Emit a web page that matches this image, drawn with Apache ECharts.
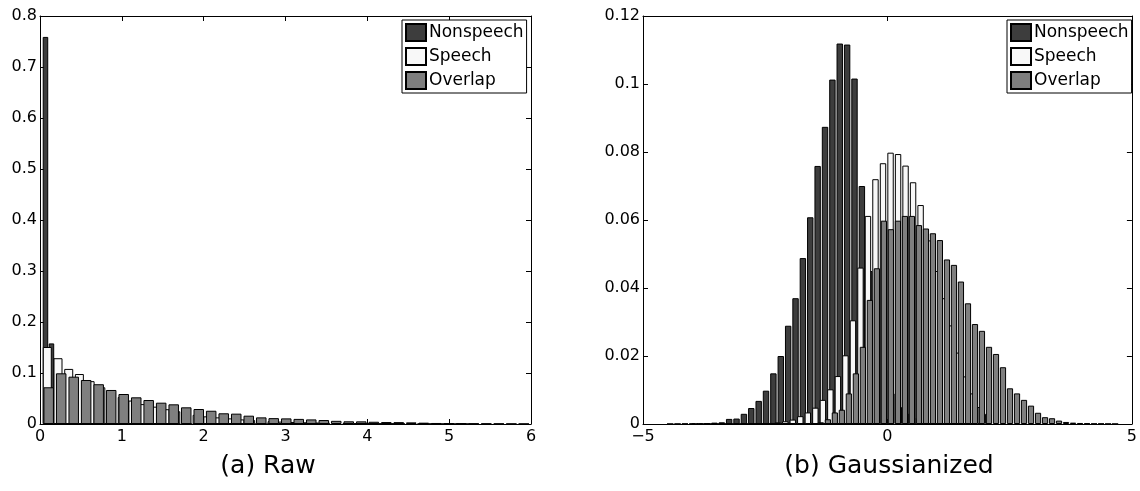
<!DOCTYPE html>
<html>
<head>
<meta charset="utf-8">
<script src="https://cdn.jsdelivr.net/npm/echarts@6/dist/echarts.min.js"></script>
<style>
html,body{margin:0;padding:0;background:#fff;}
#chart{width:1140px;height:491px;}
</style>
</head>
<body>
<div id="chart"></div>
<script>
// ---------- (a) Raw ----------
const rawNonspeechBins = [0.067,0.140,0.214,0.287,0.360,0.434,0.507,0.580,0.653,0.727,0.800,0.873,0.947,1.020,1.093,1.167,1.240,1.313,1.386,1.460,1.533,1.606,1.680,1.753,1.826,1.900,1.973,2.046,2.119,2.193,2.266,2.339,2.413,2.486,2.559,2.633,2.706,2.779,2.852,2.926];
const rawNonspeech = [0.759,0.158,0.032,0.014,0.008,0.0055,0.004,0.003,0.0025,0.002,0.0017,0.0015,0.0013,0.0011,0.001,0.0009,0.0008,0.0007,0.0006,0.0005,0.0005,0.0004,0.0004,0.0003,0.0003,0.0003,0.0002,0.0002,0.0002,0.0002,0.0001,0.0001,0.0001,0.0001,0.0001,0.0001,0.00005,0.00005,0.00005,0.00005];

const rawSpeechBins = [0.089,0.220,0.351,0.481,0.612,0.743,0.874,1.005,1.135,1.266,1.397,1.528,1.659,1.789,1.920,2.051,2.182,2.313,2.443,2.574,2.705,2.836,2.967,3.097,3.228,3.359,3.490,3.621,3.751,3.882,4.013,4.144,4.275,4.405,4.536,4.667,4.798,4.929,5.059,5.190];
const rawSpeech = [0.151,0.129,0.108,0.098,0.084,0.072,0.062,0.053,0.046,0.039,0.034,0.029,0.025,0.021,0.018,0.015,0.013,0.011,0.009,0.0078,0.0066,0.0056,0.0047,0.004,0.0034,0.0029,0.0024,0.002,0.0017,0.0014,0.0012,0.001,0.0008,0.0007,0.0006,0.0005,0.0004,0.0003,0.0002,0.0002];

const rawOverlapBins = [0.106,0.259,0.412,0.564,0.717,0.870,1.023,1.176,1.328,1.481,1.634,1.787,1.940,2.092,2.245,2.398,2.551,2.704,2.856,3.009,3.162,3.315,3.468,3.620,3.773,3.926,4.079,4.232,4.384,4.537,4.690,4.843,4.996,5.148,5.301,5.454,5.607,5.760,5.912];
const rawOverlap = [0.072,0.0994,0.0928,0.0863,0.078,0.0667,0.0588,0.0523,0.047,0.0418,0.0386,0.0327,0.0294,0.026,0.021,0.0203,0.0163,0.013,0.0115,0.011,0.010,0.009,0.0078,0.0062,0.0053,0.0052,0.0044,0.0038,0.0037,0.0032,0.0026,0.002,0.0015,0.0013,0.001,0.0008,0.0007,0.0005,0.0004];

// ---------- (b) Gaussianized ----------
const gauNonspeechBins = [-4.444,-4.293,-4.142,-3.992,-3.841,-3.690,-3.539,-3.388,-3.238,-3.087,-2.936,-2.785,-2.634,-2.484,-2.333,-2.182,-2.031,-1.880,-1.730,-1.579,-1.428,-1.277,-1.126,-0.976,-0.825,-0.674,-0.523,-0.372,-0.222,-0.071,0.080,0.231,0.382,0.532,0.683,0.834,0.985,1.136,1.286,1.437];
const gauNonspeech = [0.00003,0.00005,0.0001,0.0001,0.0001,0.0002,0.0004,0.0005,0.0015,0.0016,0.003,0.0047,0.0068,0.0098,0.0149,0.020,0.0289,0.037,0.0488,0.0608,0.0759,0.0874,0.1013,0.1119,0.1116,0.1016,0.070,0.045,0.028,0.016,0.009,0.005,0.003,0.0017,0.001,0.0006,0.0003,0.0002,0.0001,0.00005];

const gauSpeechBins = [-3.936,-3.782,-3.628,-3.475,-3.321,-3.167,-3.013,-2.859,-2.706,-2.552,-2.398,-2.244,-2.090,-1.937,-1.783,-1.629,-1.475,-1.321,-1.168,-1.014,-0.860,-0.706,-0.552,-0.399,-0.245,-0.091,0.063,0.217,0.370,0.524,0.678,0.832,0.986,1.139,1.293,1.447,1.601,1.755,1.908,2.062];
const gauSpeech = [0.00002,0.00003,0.00005,0.00005,0.0001,0.0001,0.0001,0.0001,0.0002,0.0002,0.0003,0.0005,0.0008,0.0013,0.0023,0.0034,0.0048,0.0071,0.0102,0.0141,0.0202,0.0305,0.046,0.0612,0.072,0.0767,0.0798,0.0794,0.076,0.0711,0.0644,0.054,0.045,0.037,0.029,0.021,0.014,0.009,0.005,0.003];

const gauOverlapBins = [-1.506,-1.363,-1.219,-1.076,-0.933,-0.790,-0.646,-0.503,-0.360,-0.216,-0.073,0.070,0.214,0.357,0.500,0.644,0.787,0.930,1.073,1.217,1.360,1.503,1.647,1.790,1.933,2.077,2.220,2.363,2.506,2.650,2.793,2.936,3.080,3.223,3.366,3.509,3.653,3.796,3.939,4.083,4.226,4.369,4.513,4.656];
const gauOverlap = [0.0002,0.0005,0.0014,0.0034,0.0042,0.009,0.0149,0.0227,0.0365,0.0458,0.0598,0.0573,0.0598,0.0612,0.0612,0.0585,0.0575,0.0561,0.0541,0.0484,0.0468,0.0419,0.0355,0.0294,0.0274,0.0227,0.0206,0.0167,0.0105,0.009,0.0071,0.0054,0.0033,0.002,0.0017,0.001,0.0006,0.0004,0.0003,0.0002,0.0001,0.0001,0.00005,0.00003];

const seriesNames = ['Nonspeech','Speech','Overlap'];
const captions = ['(a) Raw','(b) Gaussianized'];
const rawXTicks = {min:0, max:6, interval:1};
const rawYTicks = {min:0, max:0.8, interval:0.1};
const gauXTicks = {min:-5, max:5, interval:5};
const gauYTicks = {min:0, max:0.12, interval:0.02};

const FONT = 'DejaVu Sans';
const fills = ['#3d3d3d','#f8f8f8','#7f7f7f'];

function pairs(xs, ys){ return xs.map((x,i)=>[x, ys[i]]); }

const axisLineStyle = {show:true, onZero:false, lineStyle:{color:'#000', width:1}};
const tickStyle = {show:true, inside:true, length:5, lineStyle:{color:'#000', width:1}};

function mainX(grid, t, fmt){
  return {gridIndex:grid, type:'value', position:'bottom', min:t.min, max:t.max, interval:t.interval,
    axisLine:axisLineStyle, axisTick:tickStyle, splitLine:{show:false},
    axisLabel:{show:true, margin:5, color:'#000', fontFamily:FONT, fontSize:16, formatter:fmt}};
}
function hiddenX(grid, t){
  return {gridIndex:grid, type:'value', show:false, min:t.min, max:t.max, interval:t.interval};
}
function topX(grid, t){
  return {gridIndex:grid, type:'value', position:'top', min:t.min, max:t.max, interval:t.interval,
    axisLine:axisLineStyle, axisTick:tickStyle, splitLine:{show:false}, axisLabel:{show:false}};
}
function leftY(grid, t){
  return {gridIndex:grid, type:'value', position:'left', min:t.min, max:t.max, interval:t.interval,
    axisLine:axisLineStyle, axisTick:tickStyle, splitLine:{show:false},
    axisLabel:{show:true, margin:3, color:'#000', fontFamily:FONT, fontSize:16}};
}
function rightY(grid, t){
  return {gridIndex:grid, type:'value', position:'right', min:t.min, max:t.max, interval:t.interval,
    axisLine:axisLineStyle, axisTick:tickStyle, splitLine:{show:false}, axisLabel:{show:false}};
}
const minusFmt = v => v < 0 ? '\u2212' + (-v) : String(v);

function barSeries(name, idx, xAxisIndex, yAxisIndex, xs, ys, w){
  return {name:name, type:'bar', xAxisIndex:xAxisIndex, yAxisIndex:yAxisIndex,
    data:pairs(xs, ys), barWidth:w, clip:true,
    itemStyle:{color:fills[idx], borderColor:'#000', borderWidth:1},
    emphasis:{disabled:true}};
}

const legendBase = {orient:'vertical', top:20, data:seriesNames, icon:'rect',
  itemWidth:20, itemHeight:17, itemGap:5, padding:[3,3,3,3],
  borderColor:'#000', borderWidth:1, backgroundColor:'#fff', borderRadius:0,
  textStyle:{fontFamily:FONT, fontSize:17, color:'#000', padding:[0,0,0,-2]}, selectedMode:false};

const option = {
  animation:false,
  backgroundColor:'#fff',
  grid:[
    {left:40, top:16, width:491, height:408},
    {left:643, top:16, width:492, height:408}
  ],
  xAxis:[
    mainX(0, rawXTicks), hiddenX(0, rawXTicks), hiddenX(0, rawXTicks), topX(0, rawXTicks),
    mainX(1, gauXTicks, minusFmt), hiddenX(1, gauXTicks), hiddenX(1, gauXTicks), topX(1, gauXTicks)
  ],
  yAxis:[
    leftY(0, rawYTicks), rightY(0, rawYTicks),
    leftY(1, gauYTicks), rightY(1, gauYTicks)
  ],
  legend:[
    Object.assign({}, legendBase, {left:402}),
    Object.assign({}, legendBase, {left:1007})
  ],
  series:[
    barSeries(seriesNames[0], 0, 0, 0, rawNonspeechBins, rawNonspeech, 5.5),
    barSeries(seriesNames[1], 1, 1, 0, rawSpeechBins, rawSpeech, 9),
    barSeries(seriesNames[2], 2, 2, 0, rawOverlapBins, rawOverlap, 10.5),
    barSeries(seriesNames[0], 0, 4, 2, gauNonspeechBins, gauNonspeech, 6.4),
    barSeries(seriesNames[1], 1, 5, 2, gauSpeechBins, gauSpeech, 6.4),
    barSeries(seriesNames[2], 2, 6, 2, gauOverlapBins, gauOverlap, 6.2)
  ],
  graphic:[
    {type:'text', style:{text:captions[0], x:268, y:466, textAlign:'center', textVerticalAlign:'middle', font:'25px "DejaVu Sans"', fill:'#000'}},
    {type:'text', style:{text:captions[1], x:889, y:466, textAlign:'center', textVerticalAlign:'middle', font:'25px "DejaVu Sans"', fill:'#000'}}
  ]
};

const chart = echarts.init(document.getElementById('chart'), null, {renderer:'canvas'});
chart.setOption(option);
</script>
</body>
</html>
